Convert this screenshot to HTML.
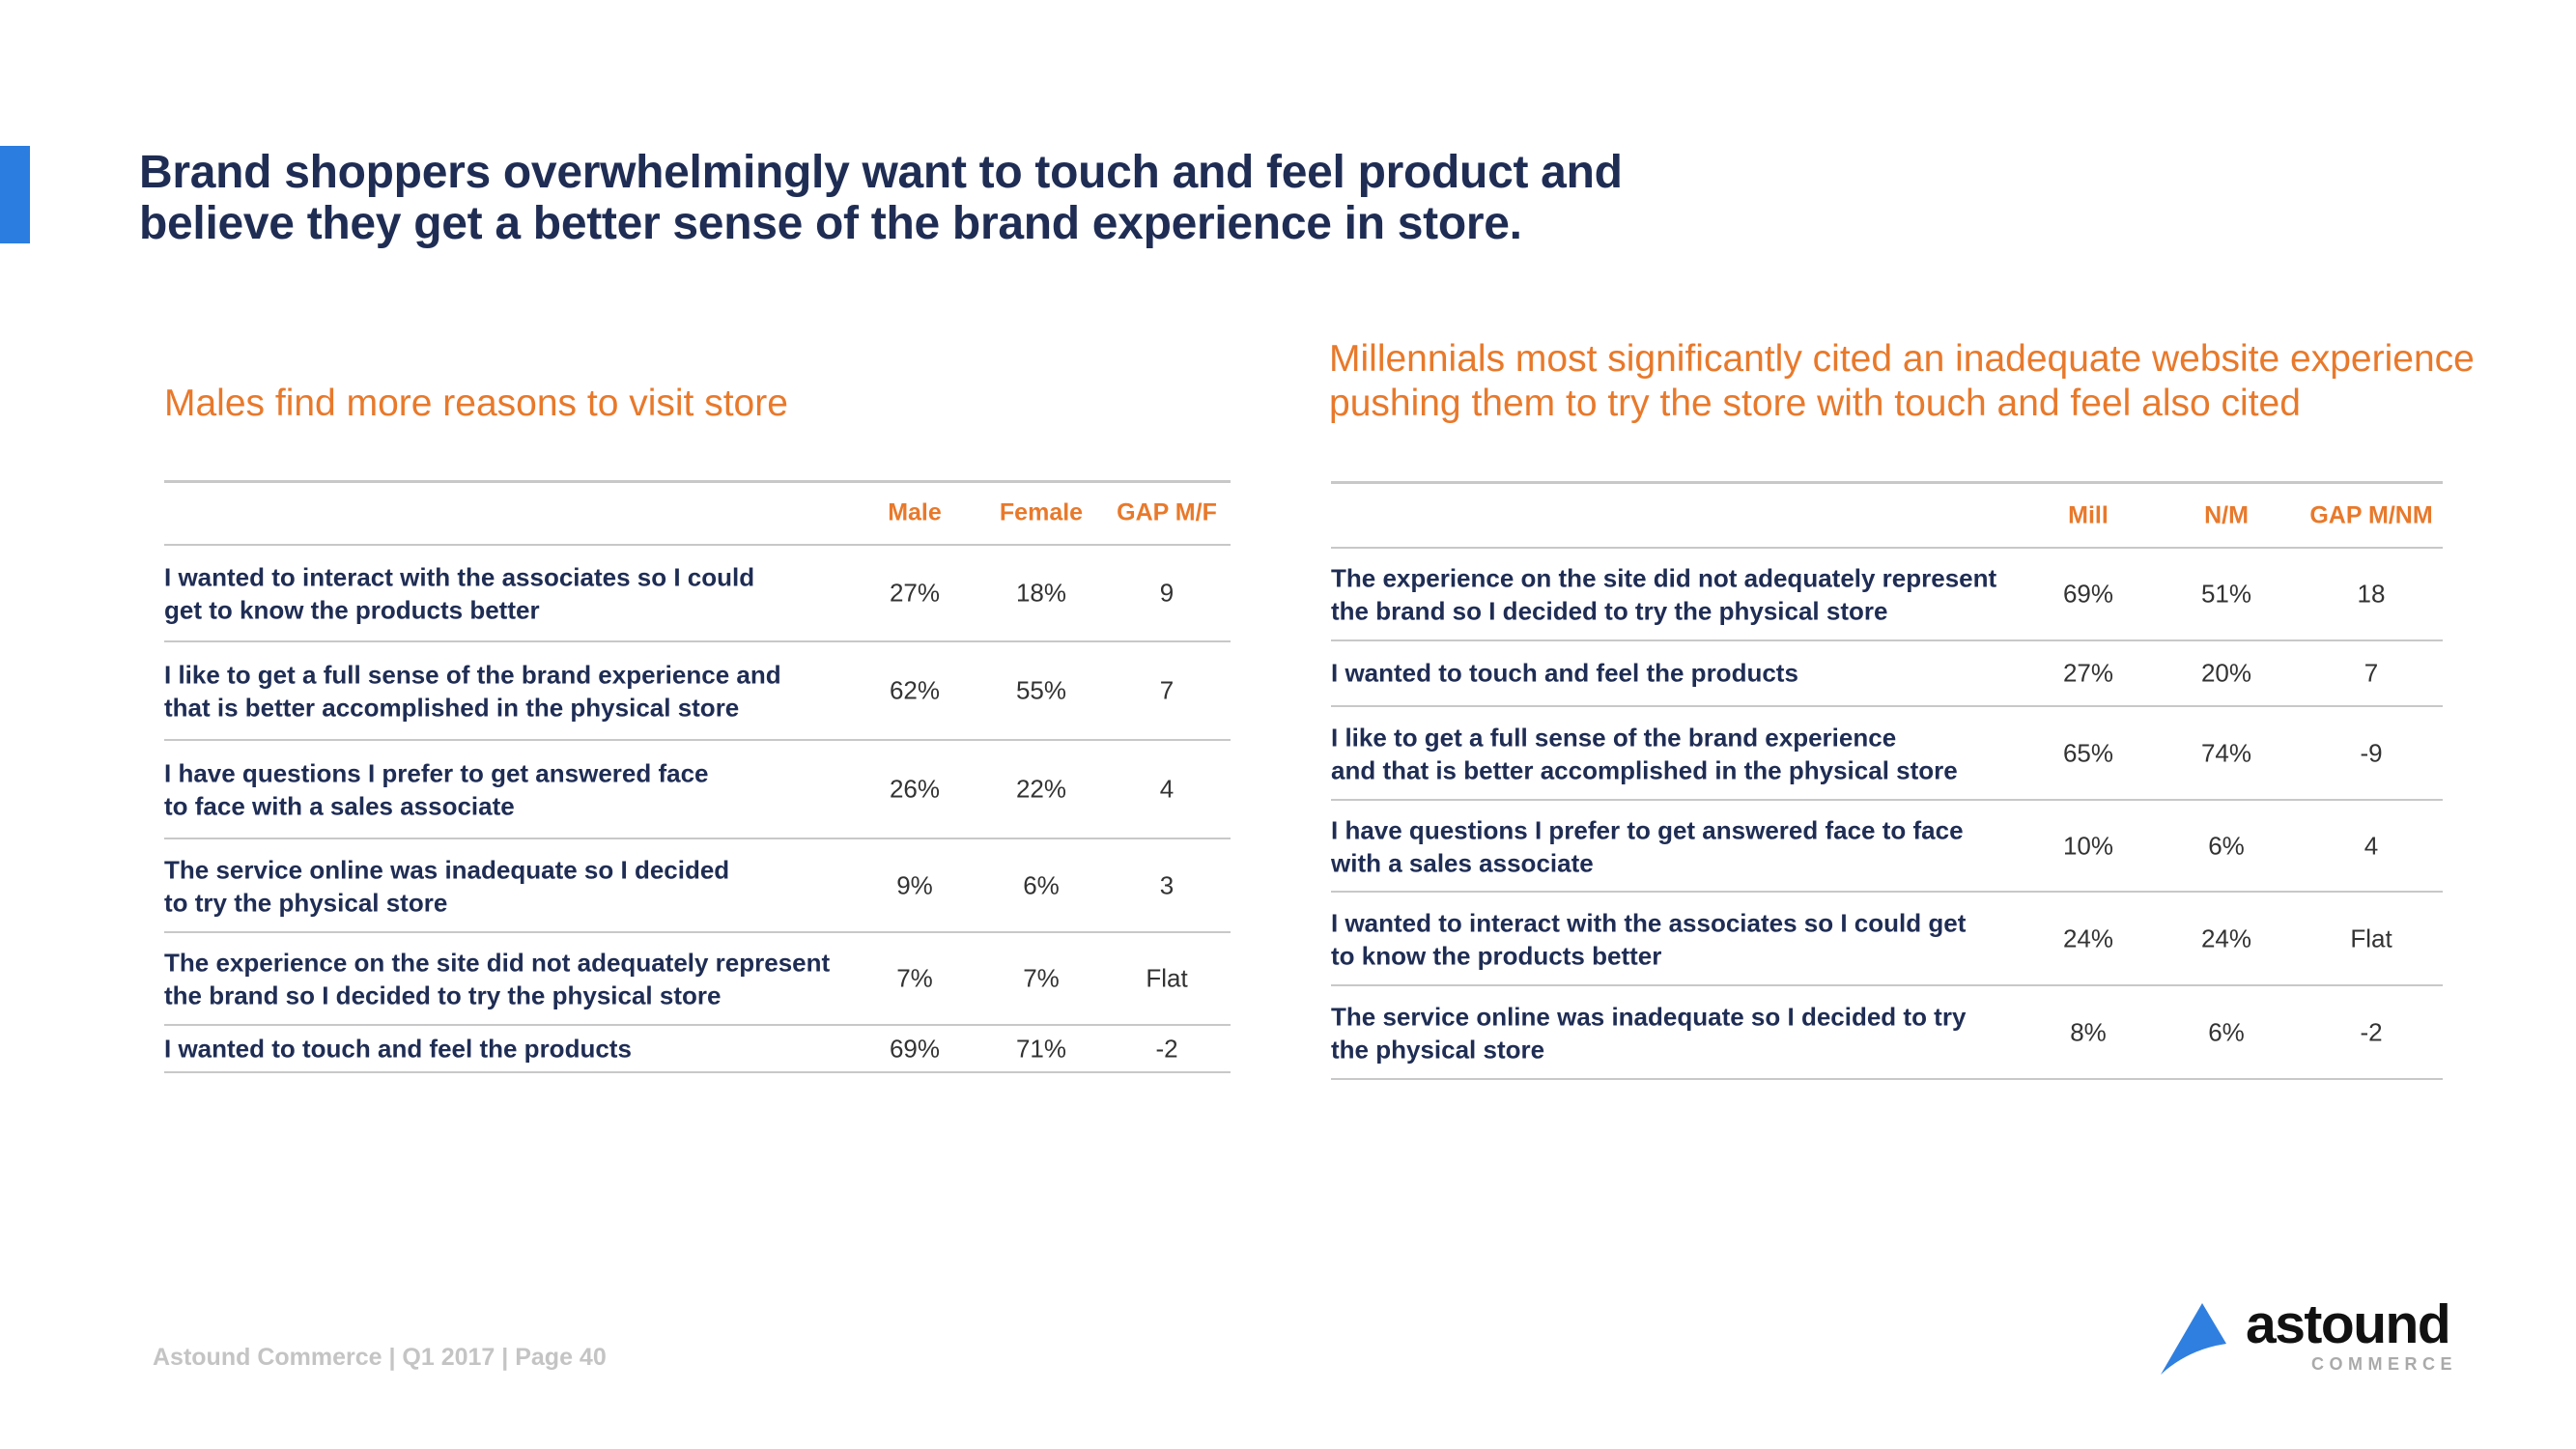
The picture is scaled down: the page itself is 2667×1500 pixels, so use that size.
<!DOCTYPE html>
<html><head><meta charset="utf-8"><style>
body{margin:0;width:2667px;height:1500px;background:#fff;position:relative;overflow:hidden;font-family:"Liberation Sans",sans-serif}
.a{position:absolute}
.t{color:#1f2d54;font-weight:bold;font-size:48px;line-height:53px;letter-spacing:-0.3px;left:144px;top:152px;white-space:nowrap}
.sub{color:#e8792b;font-size:39px;line-height:46px;white-space:nowrap}
.hl{background:#c8c8c8;height:2px}
.hd{color:#e8792b;font-weight:bold;font-size:25px;transform:translate(-50%,-50%);white-space:nowrap}
.lb{color:#1f2d54;font-weight:bold;font-size:26px;line-height:34px;transform:translateY(-48%);white-space:nowrap}
.v{color:#333;font-size:26px;transform:translate(-50%,-46%);white-space:nowrap}
</style></head><body>
<div class="a" style="left:0;top:151px;width:31px;height:101px;background:#2b7de0"></div>
<div class="a t">Brand shoppers overwhelmingly want to touch and feel product and<br>believe they get a better sense of the brand experience in store.</div>
<div class="a sub" style="left:170px;top:395px">Males find more reasons to visit store</div>
<div class="a sub" style="left:1376px;top:349px">Millennials most significantly cited an inadequate website experience<br>pushing them to try the store with touch and feel also cited</div>
<div id="tables"></div>
<div class="a" style="left:158px;top:1391px;color:#c4c4c4;font-weight:bold;font-size:25px">Astound Commerce | Q1 2017 | Page 40</div>
<svg class="a" style="left:2235px;top:1347px" width="72" height="78" viewBox="0 0 72 78"><path d="M45 2 L70 44 Q30 50 2 76 Z" fill="#2f7fe0"/></svg>
<div class="a" style="left:2325px;top:1338px;font-weight:bold;font-size:57px;color:#111;letter-spacing:-1.5px">astound</div>
<div class="a" style="left:2393px;top:1402px;font-weight:bold;font-size:18px;color:#aaa;letter-spacing:5.5px">COMMERCE</div>
<script>
const leftHeaders=["Male","Female","GAP M/F"];
const leftLabels=["I wanted to interact with the associates so I could<br>get to know the products better","I like to get a full sense of the brand experience and<br>that is better accomplished in the physical  store","I have questions I prefer to get answered face<br>to face with a sales associate","The service online was inadequate so I decided<br>to try the physical store","The experience on the site did not adequately represent<br>the brand so I decided to try the physical store","I wanted to touch and feel the products"];
const leftA=["27%","62%","26%","9%","7%","69%"];
const leftB=["18%","55%","22%","6%","7%","71%"];
const leftGap=["9","7","4","3","Flat","-2"];
const rightHeaders=["Mill","N/M","GAP M/NM"];
const rightLabels=["The experience on the site did not adequately represent<br>the brand so I decided to try the physical store","I wanted to touch and feel the products","I like to get a full sense of the brand experience<br>and that is better accomplished in the physical store","I have questions I prefer to get answered face to face<br>with a sales associate","I wanted to interact with the associates so I could get<br>to know the products better","The service online was inadequate so I decided to try<br>the physical store"];
const rightA=["69%","27%","65%","10%","24%","8%"];
const rightB=["51%","20%","74%","6%","24%","6%"];
const rightGap=["18","7","-9","4","Flat","-2"];
const host=document.getElementById('tables');
function mk(cls,x,y,html){const d=document.createElement('div');d.className='a '+cls;d.style.left=x+'px';d.style.top=y+'px';d.innerHTML=html;host.appendChild(d);return d;}
function table(side,x0,x1,lines,headY,cols,headers,labels,A,B,G){
  lines.forEach((y,i)=>{const l=mk('hl',x0,y,'');l.style.width=(x1-x0)+'px';if(i==0)l.style.height='3px';
    
    });
  headers.forEach((h,i)=>{const d=mk('hd',cols[i],headY,h);
    
    });
  labels.forEach((lab,r)=>{const cy=(lines[r+1]+lines[r+2])/2;
    const d=mk('lb',x0,cy,lab);
    
    
    [A[r],B[r],G[r]].forEach((v,c)=>{const e=mk('v',cols[c],cy,v);
      
      });});
}
table('left',170,1274,[497,563,663,765,867,964,1060,1109],531,[947,1078,1208],leftHeaders,leftLabels,leftA,leftB,leftGap);
table('right',1378,2529,[498,566,662,730,827,922,1019,1116],534,[2162,2305,2455],rightHeaders,rightLabels,rightA,rightB,rightGap);
</script>
</body></html>
